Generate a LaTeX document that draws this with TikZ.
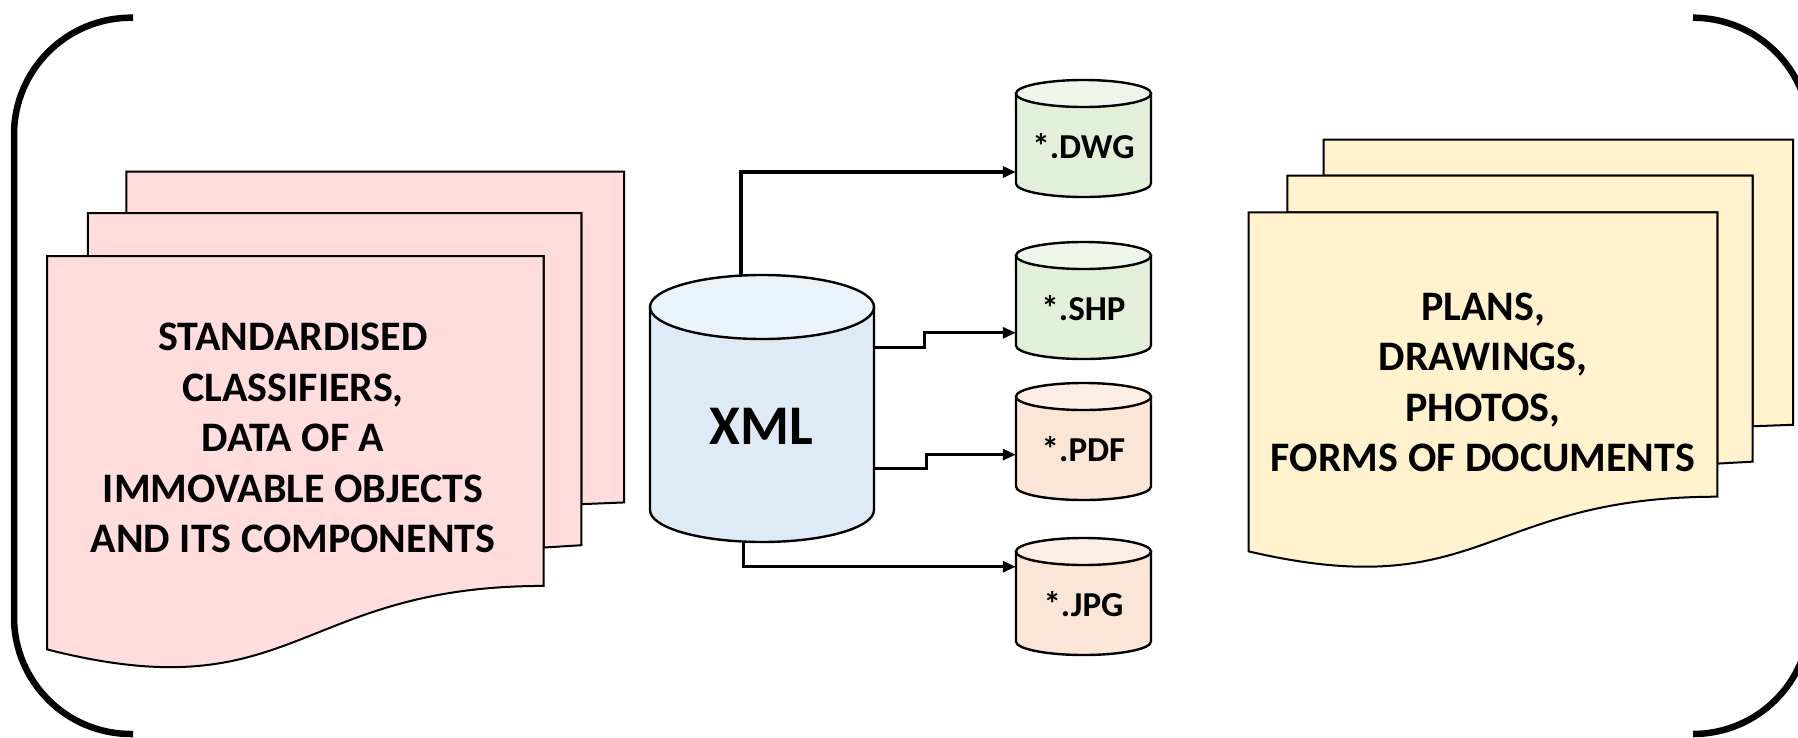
\documentclass[tikz,border=0pt]{standalone}
\usepackage{fontspec}
\setmainfont{Carlito}
\usetikzlibrary{arrows.meta}
\definecolor{pinkdoc}{RGB}{255,221,221}
\definecolor{yellowdoc}{RGB}{255,242,204}
\definecolor{bluebody}{RGB}{222,235,247}
\definecolor{bluetop}{RGB}{234,242,250}
\definecolor{greenbody}{RGB}{226,240,217}
\definecolor{greentop}{RGB}{238,246,233}
\definecolor{salmonbody}{RGB}{251,229,214}
\definecolor{salmontop}{RGB}{253,238,229}
\newcommand\drawcyl[7]{%
  \draw[cylline, fill=#6] ({#1-#4},{-(#2+#5)}) -- ({#1-#4},{-(#2+#3-#5)})
    arc[start angle=180,end angle=360,x radius=#4,y radius=#5]
    -- ({#1+#4},{-(#2+#5)}) -- cycle;
  \draw[cylline, fill=#7] (#1,{-(#2+#5)}) ellipse[x radius=#4, y radius=#5];
}
\newcommand\docstack[5]{%
  \begin{scope}[shift={(#1pt,-#2pt)}, x=#3pt, y=-#4pt]
    \draw[docline, fill=#5] (29.72,0) -- (216,0) -- (216,143.92) -- (200,144.67) -- (200,18.15) -- (29.72,18.15) -- cycle;
    \draw[docline, fill=#5] (15.32,18.15) -- (200,18.15) -- (200,162.52) -- (185.95,163.52) -- (185.95,36.75) -- (15.32,36.75) -- cycle;
    \draw[docline, fill=#5] (0,36.75) -- (185.95,36.75) -- (185.95,180.22)
      .. controls (92.98,180.22) and (92.98,235.42) .. (0,207.82) -- cycle;
  \end{scope}
}
\begin{document}
\begin{tikzpicture}[x=1pt,y=1pt,
  bracket/.style={line width=6.5pt, rounded corners=117pt},
  docline/.style={line width=2pt, draw=black},
  cylline/.style={line width=2.4pt, draw=black},
  arr/.style={line width=3pt, -{Triangle[length=13pt,width=11pt]}},
  doctext/.style={inner sep=0pt, align=center, anchor=north, font=\fontsize{42}{50.5}\selectfont\bfseries},
  cyltext/.style={inner sep=0pt, font=\fontsize{35}{40}\selectfont\bfseries},
  xmltext/.style={inner sep=0pt, font=\fontsize{56}{60}\selectfont\bfseries}]
\useasboundingbox (0,0) rectangle (1798,-737);
\clip (0,0) rectangle (1798,-737);
% brackets
\draw[bracket] (133,-17.7) -- (14,-17.7) -- (14,-734) -- (133,-734);
\draw[bracket] (1693,-17.7) -- (1810,-17.7) -- (1810,-734) -- (1693,-734);
% document stacks
\docstack{47}{171.5}{2.6713}{2.2995}{pinkdoc}
\docstack{1248.7}{139.6}{2.5199}{1.9815}{yellowdoc}
\node[doctext] (lefttext) at (293,-323) {STANDARDISED\\CLASSIFIERS,\\DATA OF A\\IMMOVABLE OBJECTS\\AND ITS COMPONENTS};
\node[doctext] (righttext) at (1483,-292.5) {PLANS,\\DRAWINGS,\\PHOTOS,\\FORMS OF DOCUMENTS};
% cylinders
\drawcyl{762}{275}{267}{112}{32}{bluebody}{bluetop}
\drawcyl{1083.5}{80}{117}{67.5}{13.5}{greenbody}{greentop}
\drawcyl{1083.5}{242}{117}{67.5}{13.5}{greenbody}{greentop}
\drawcyl{1083.5}{383}{117}{67.5}{13.5}{salmonbody}{salmontop}
\drawcyl{1083.5}{538}{117}{67.5}{13.5}{salmonbody}{salmontop}
\node[inner sep=0pt, minimum width=224pt, minimum height=267pt] (xml) at (762,-408.5) {};
\node[inner sep=0pt, minimum width=135pt, minimum height=117pt] (dwg) at (1083.5,-138.5) {};
\node[inner sep=0pt, minimum width=135pt, minimum height=117pt] (shp) at (1083.5,-300.5) {};
\node[inner sep=0pt, minimum width=135pt, minimum height=117pt] (pdf) at (1083.5,-441.5) {};
\node[inner sep=0pt, minimum width=135pt, minimum height=117pt] (jpg) at (1083.5,-596.5) {};
\node[xmltext] (xmlt) at (761,-426) {XML};
\node[cyltext] (dwgt) at ([yshift=-7.5pt]dwg.center) {*.DWG};
\node[cyltext] (shpt) at ([yshift=-7.5pt]shp.center) {*.SHP};
\node[cyltext] (pdft) at ([yshift=-7.5pt]pdf.center) {*.PDF};
\node[cyltext] (jpgt) at ([yshift=-7.5pt]jpg.center) {*.JPG};
% connectors
\draw[arr, line width=3.4pt] ([xshift=-21pt]xml.north) |- ([yshift=-33.5pt]dwg.west);
\draw[arr] ([yshift=61pt]xml.east) -- ++(50,0) |- ([yshift=-32.3pt]shp.west);
\draw[arr] ([yshift=-59.5pt]xml.east) -- ++(52,0) |- ([yshift=-13.1pt]pdf.west);
\draw[arr] ([xshift=-19pt]xml.south) |- ([yshift=29.8pt]jpg.west);
\end{tikzpicture}
\end{document}
